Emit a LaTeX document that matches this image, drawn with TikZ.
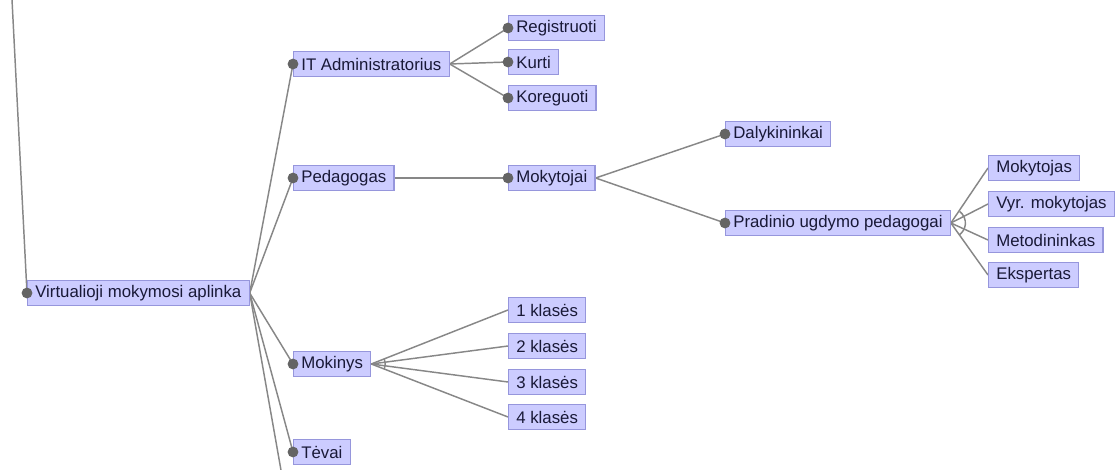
\documentclass[tikz,border=0pt]{standalone}
\usepackage{fontspec}
\setmainfont{Liberation Sans}
\usetikzlibrary{backgrounds}
\begin{document}
\begin{tikzpicture}[x=0.75pt,y=-0.75pt,
  box/.style={draw={rgb,255:red,150;green,150;blue,220}, fill={rgb,255:red,204;green,204;blue,255},
    line width=0.9pt, anchor=west, minimum height=18.8pt, inner ysep=0pt, inner xsep=5.8pt,
    text={rgb,255:red,25;green,25;blue,55}, font=\fontsize{12.6}{14}\selectfont},
  conn/.style={draw={rgb,255:red,135;green,135;blue,135}, line width=1.1pt},
  dot/.style={fill={rgb,255:red,100;green,100;blue,100}}]
\useasboundingbox (0,0) rectangle (1118,470);
\clip (0,0) rectangle (1118,470);

% nodes of the tree
\node[box] (root) at (27,293) {Virtualioji mokymosi aplinka};
\node[box] (it) at (293,64) {IT Administratorius};
\node[box] (reg) at (508,28) {Registruoti};
\node[box] (kur) at (508,62) {Kurti};
\node[box] (kor) at (508,98) {Koreguoti};
\node[box] (ped) at (293,178) {Pedagogas};
\node[box] (mok) at (508,178) {Mokytojai};
\node[box] (dal) at (725,134) {Dalykininkai};
\node[box] (pra) at (725,223) {Pradinio ugdymo pedagogai};
\node[box] (mkt) at (988,168) {Mokytojas};
\node[box] (vyr) at (988,204) {Vyr. mokytojas};
\node[box] (met) at (988,240) {Metodininkas};
\node[box] (eks) at (988,275) {Ekspertas};
\node[box] (mns) at (293,364) {Mokinys};
\node[box] (k1) at (508,310) {1 klasės};
\node[box] (k2) at (508,346) {2 klasės};
\node[box] (k3) at (508,382) {3 klasės};
\node[box] (k4) at (508,417) {4 klasės};
\node[box] (tev) at (293,452) {Tėvai};

% free ends of the branches running out of the frame
\coordinate (up) at (11,-20);
\coordinate (down) at (284.5,490);

% connectors, beneath the boxes
\begin{scope}[on background layer]
\path[conn] (up) -- (root.west);
\foreach \c in {it,ped,mns,tev} \path[conn] (root.east) -- (\c.west);
\path[conn] (root.east) -- (down);
\foreach \c in {reg,kur,kor} \path[conn] (it.east) -- (\c.west);
\path[conn] (ped.east) -- (mok.west);
\foreach \c in {dal,pra} \path[conn] (mok.east) -- (\c.west);
\foreach \c in {mkt,vyr,met,eks} \path[conn] (pra.east) -- (\c.west);
\foreach \c in {k1,k2,k3,k4} \path[conn] (mns.east) -- (\c.west);
% fork marks
\path[conn] ([shift={(-21.5:14)}]mns.east) arc (-21.5:21.5:14);
\path[conn] ([shift={(-53:14.5)}]pra.east) arc (-53:53:14.5);
\end{scope}

% attachment dots
\foreach \n in {root,it,reg,kur,kor,ped,mok,dal,pra,mns,tev}
  \fill[dot] (\n.west) circle (5.4);
\end{tikzpicture}
\end{document}
